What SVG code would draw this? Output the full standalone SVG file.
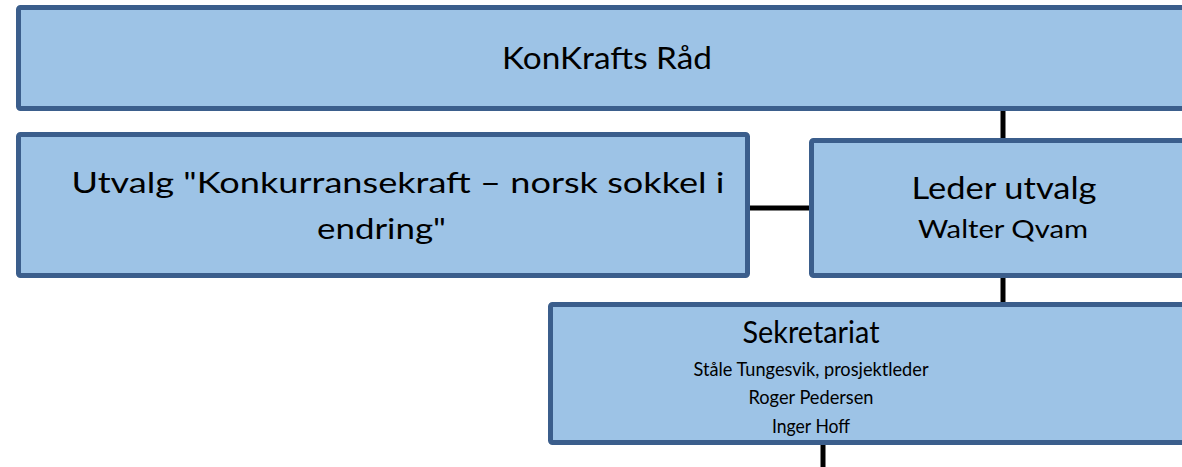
<svg xmlns="http://www.w3.org/2000/svg" width="1182" height="467" viewBox="0 0 1182 467">
<style>
.box{fill:#9dc3e6;stroke:#3b5e8c;stroke-width:5}
.t{font-family:Lato,"Open Sans","Liberation Sans",sans-serif;fill:#000;text-anchor:middle}
.conn{stroke:#000;stroke-width:5;fill:none}
</style>
<rect width="1182" height="467" fill="#fff"/>
<g id="connectors">
<line class="conn" x1="1003" y1="108" x2="1003" y2="140"/>
<line class="conn" x1="748" y1="208" x2="812" y2="208"/>
<line class="conn" x1="1003" y1="276" x2="1003" y2="305"/>
<line class="conn" x1="823" y1="442" x2="823" y2="467"/>
</g>
<g id="konkrafts-rad">
<rect class="box" x="18.5" y="7.5" width="1190" height="101" rx="2"/>
<text class="t" x="607" y="69" font-size="30" textLength="210" lengthAdjust="spacingAndGlyphs">KonKrafts Råd</text>
</g>
<g id="utvalg">
<rect class="box" x="18.5" y="134.5" width="729" height="141" rx="2"/>
<text class="t" x="398" y="193" font-size="29" textLength="653" lengthAdjust="spacingAndGlyphs">Utvalg "Konkurransekraft – norsk sokkel i</text>
<text class="t" x="381.5" y="239" font-size="29" textLength="129" lengthAdjust="spacingAndGlyphs">endring"</text>
</g>
<g id="leder">
<rect class="box" x="811.5" y="140.5" width="400" height="135" rx="2"/>
<text class="t" x="1004" y="199" font-size="30" textLength="185" lengthAdjust="spacingAndGlyphs">Leder utvalg</text>
<text class="t" x="1003" y="238" font-size="25" textLength="170" lengthAdjust="spacingAndGlyphs">Walter Qvam</text>
</g>
<g id="sekretariat">
<rect class="box" x="550.5" y="304.5" width="660" height="138" rx="2"/>
<text class="t" x="811" y="343" font-size="30" textLength="137" lengthAdjust="spacingAndGlyphs">Sekretariat</text>
<text class="t" x="811" y="376" font-size="20" textLength="235" lengthAdjust="spacingAndGlyphs">Ståle Tungesvik, prosjektleder</text>
<text class="t" x="811" y="404" font-size="20" textLength="125" lengthAdjust="spacingAndGlyphs">Roger Pedersen</text>
<text class="t" x="811" y="433" font-size="20" textLength="78" lengthAdjust="spacingAndGlyphs">Inger Hoff</text>
</g>
</svg>
